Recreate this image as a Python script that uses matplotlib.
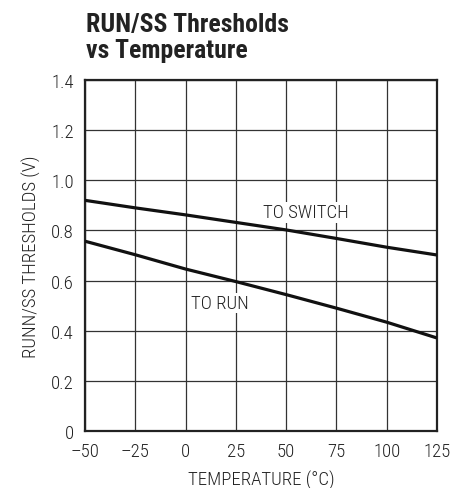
import matplotlib
matplotlib.use("Agg")
import matplotlib.pyplot as plt
from matplotlib import font_manager

temps = [-50, -25, 0, 25, 50, 75, 100, 125]
to_switch = [0.920, 0.890, 0.862, 0.832, 0.802, 0.768, 0.733, 0.702]
to_run = [0.757, 0.703, 0.646, 0.596, 0.544, 0.490, 0.434, 0.371]
xticks = [-50, -25, 0, 25, 50, 75, 100, 125]
xtick_labels = ["\u201350", "\u201325", "0", "25", "50", "75", "100", "125"]
yticks = [0, 0.2, 0.4, 0.6, 0.8, 1.0, 1.2, 1.4]
ytick_labels = ["0", "0.2", "0.4", "0.6", "0.8", "1.0", "1.2", "1.4"]

names = {f.name for f in font_manager.fontManager.ttflist}
prefs = ["Roboto Condensed", "Archivo Narrow", "PT Sans Narrow", "Liberation Sans Narrow",
         "Barlow Condensed", "IBM Plex Sans Condensed", "Liberation Sans"]
chosen = next((p for p in prefs if p in names), "DejaVu Sans")
plt.rcParams['font.family'] = [chosen, "DejaVu Sans"]
plt.rcParams['font.weight'] = 300
plt.rcParams['axes.labelweight'] = 300

fig = plt.figure(figsize=(4.59, 4.89), dpi=100)
ax = fig.add_axes([85/459, 1 - 432/489, (437-85)/459, (432-81)/489])

ax.plot(temps, to_switch, color="#111111", lw=2.3, solid_capstyle="butt", zorder=3)
ax.plot(temps, to_run, color="#111111", lw=2.3, solid_capstyle="butt", zorder=3)

ax.set_xlim(-50, 125)
ax.set_ylim(0, 1.4)
ax.set_xticks(xticks)
ax.set_xticklabels(xtick_labels)
ax.set_yticks(yticks)
ax.set_yticklabels(ytick_labels)
ax.tick_params(length=0, labelsize=13.5, colors="#222222", pad=8)
ax.grid(True, color="#333333", lw=0.9)
ax.set_axisbelow(True)
for s in ax.spines.values():
    s.set_linewidth(1.6)
    s.set_color("#222222")

ax.set_xlabel("TEMPERATURE (\u00b0C)", fontsize=13.5, color="#222222", labelpad=7, fontweight=300)
ax.set_ylabel("RUNN/SS THRESHOLDS (V)", fontsize=13.5, color="#222222", labelpad=7, fontweight=300)

bb = dict(facecolor="white", edgecolor="none", pad=1)
ax.text(60, 0.872, "TO SWITCH", fontsize=13.5, ha="center", va="center", color="#222222",
        bbox=bb, zorder=2, fontweight=300)
ax.text(17, 0.51, "TO RUN", fontsize=13.5, ha="center", va="center", color="#222222",
        bbox=bb, zorder=2, fontweight=300)

fig.text(86/459, 1 - 13/489, "RUN/SS Thresholds\nvs Temperature", fontsize=18.5, fontweight="bold",
         ha="left", va="top", color="#222222", linespacing=1.12)

fig.savefig("out.png", dpi=100)
